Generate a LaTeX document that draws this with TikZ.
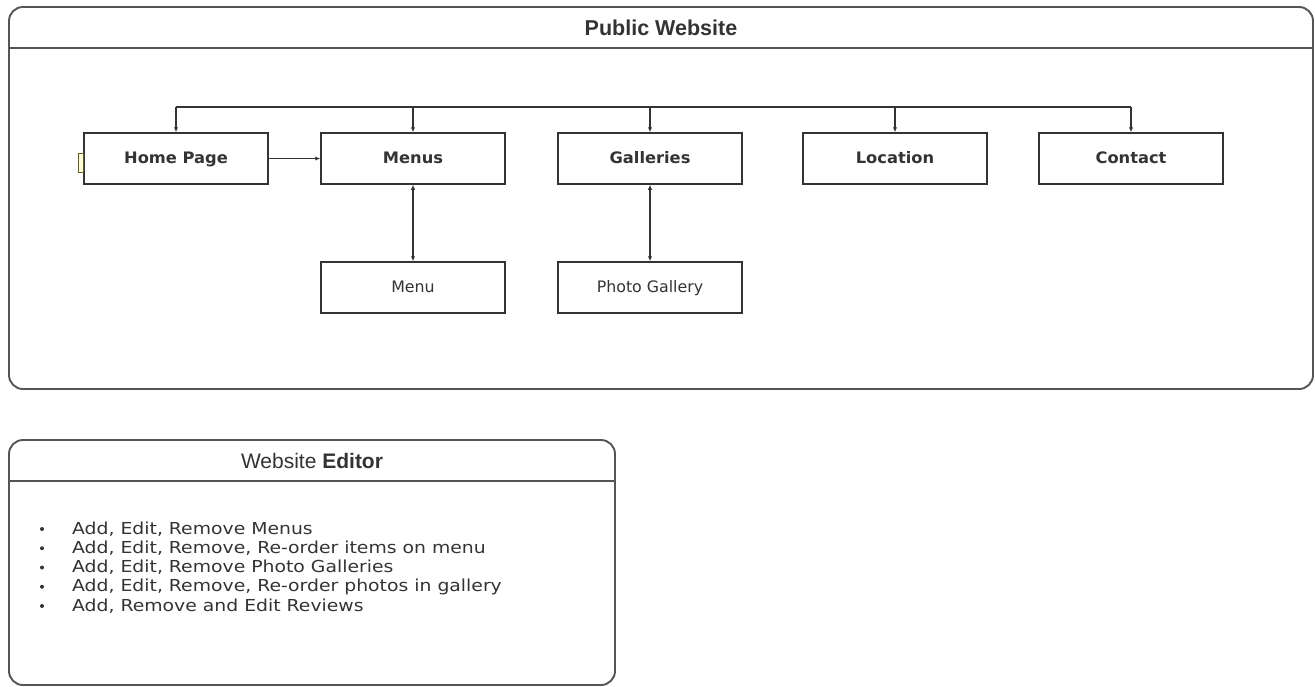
\documentclass[tikz,border=0pt]{standalone}
\usepackage{fontspec}
\setmainfont{DejaVu Sans}
\newfontfamily\arialfont{Liberation Sans}
\newfontfamily\listfont[FakeStretch=1.14]{DejaVu Sans}
\newfontfamily\labelfont[FakeStretch=1.03]{DejaVu Sans}
\usetikzlibrary{arrows.meta}
\definecolor{ink}{HTML}{333333}
\definecolor{frame}{HTML}{555555}
\begin{document}
\begin{tikzpicture}[x=1pt,y=-1pt,
  pagebox/.style={draw=ink, line width=1.5pt, fill=white, minimum width=184pt, minimum height=51pt, inner sep=0pt, text height=12pt, text depth=2pt, text=ink, font=\labelfont\fontsize{15.8}{18}\selectfont\bfseries},
  subbox/.style={pagebox, font=\fontsize{15.8}{18}\selectfont},
  frameline/.style={draw=frame, line width=1.9pt},
  conn/.style={draw=ink, line width=1.4pt},
  tip/.style={-{Latex[length=5pt,width=4.5pt]}},
  dtip/.style={{Latex[length=5pt,width=4.5pt]}-{Latex[length=5pt,width=4.5pt]}},
  titletext/.style={text=ink, font=\arialfont\fontsize{21}{24}\selectfont},
  itemtext/.style={text=ink, anchor=west, inner sep=0pt, font=\listfont\fontsize{16.5}{18}\selectfont}
]
\useasboundingbox (0,0) rectangle (1315,686);
% outer frame
\draw[frameline, rounded corners=14pt] (9,7) rectangle (1313,389);
\draw[frameline] (9,48) -- (1313,48);
\node[titletext, font=\arialfont\fontsize{21.5}{24}\selectfont\bfseries] (t1) at (661,28) {Public Website};
% editor frame
\draw[frameline, rounded corners=14pt] (9,440) rectangle (615,685);
\draw[frameline] (9,481) -- (615,481);
\node[titletext] (t2) at (312,461) {Website \textbf{Editor}};
% nodes
\node[pagebox] (home) at (176,158.5) {Home Page};
\node[pagebox] (menus) at (413,158.5) {Menus};
\node[pagebox] (gal) at (650,158.5) {Galleries};
\node[pagebox] (loc) at (895,158.5) {Location};
\node[pagebox] (con) at (1131,158.5) {Contact};
\node[subbox] (menu) at (413,287.5) {Menu};
\node[subbox] (photo) at (650,287.5) {Photo Gallery};
% small widget left of home page
\draw[draw=olive!60!black, fill=yellow!15, line width=0.8pt] (78.5,153) rectangle (83,172);
% bus
\coordinate (bh) at (176,107);
\coordinate (bm) at (413,107);
\coordinate (bg) at (650,107);
\coordinate (bl) at (895,107);
\coordinate (bc) at (1131,107);
\draw[conn] (bh) -- (bc);
\draw[conn,tip] (bh) -- (home);
\draw[conn,tip] (bm) -- (menus);
\draw[conn,tip] (bg) -- (gal);
\draw[conn,tip] (bl) -- (loc);
\draw[conn,tip] (bc) -- (con);
\draw[conn,tip] (home) -- (menus);
\draw[conn,dtip] (menus) -- (menu);
\draw[conn,dtip] (gal) -- (photo);
% list
\foreach \i/\t in {0/{Add, Edit, Remove Menus},1/{Add, Edit, Remove, Re-order items on menu},2/{Add, Edit, Remove Photo Galleries},3/{Add, Edit, Remove, Re-order photos in gallery},4/{Add, Remove and Edit Reviews}}{
  \fill[ink] (42,529+19.25*\i) circle (2pt);
  \node[itemtext] (item\i) at (72,529+19.25*\i) {\t};
}
\end{tikzpicture}
\end{document}
